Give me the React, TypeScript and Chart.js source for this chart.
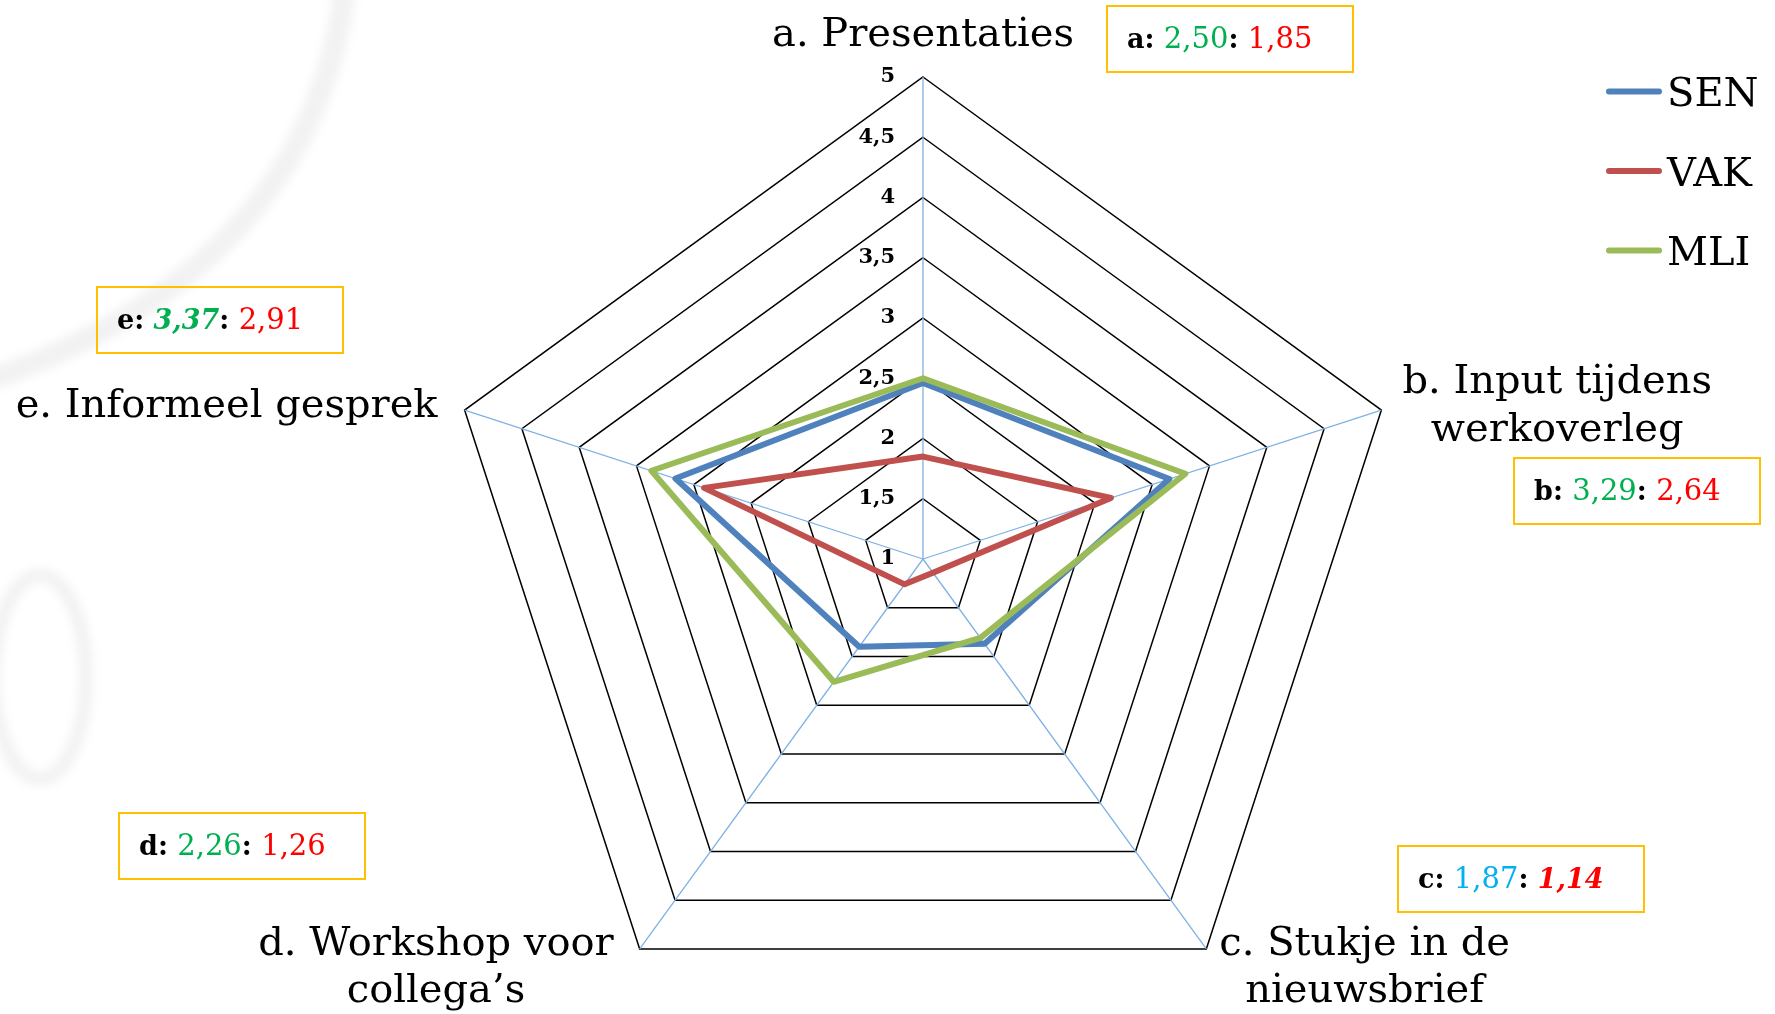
import React, { useEffect, useRef } from 'react';
import { Chart, registerables } from 'chart.js';

Chart.register(...registerables);

// ---------- data ----------
const CATEGORIES: string[][] = [
  ['a. Presentaties'],
  ['b. Input tijdens', 'werkoverleg'],
  ['c. Stukje in de', 'nieuwsbrief'],
  ['d. Workshop voor', 'collega\u2019s'],
  ['e. Informeel gesprek'],
];
const SERIES_NAMES = ['SEN', 'VAK', 'MLI'];
const SEN_VALUES = [2.46, 3.15, 1.87, 1.9, 3.16];
const VAK_VALUES = [1.85, 2.64, 1.14, 1.26, 2.91];
const MLI_VALUES = [2.5, 3.29, 1.81, 2.26, 3.37];
const TICK_LABELS = ['1', '1,5', '2', '2,5', '3', '3,5', '4', '4,5', '5'];
const BOX_KEYS = ['a', 'b', 'c', 'd', 'e'];
const BOX_FIRST = ['2,50', '3,29', '1,87', '2,26', '3,37'];
const BOX_SECOND = ['1,85', '2,64', '1,14', '1,26', '2,91'];

// ---------- styles / layout ----------
const SERIF = '"DejaVu Serif", "Liberation Serif", serif';
const SERIES_COLORS = ['#4F81BD', '#C0504D', '#9BBB59'];
const BOX_FIRST_COLOR = ['#00B050', '#00B050', '#00B0F0', '#00B050', '#00B050'];
const BOX_FIRST_ITALIC = [false, false, false, false, true];
const BOX_SECOND_ITALIC = [false, false, true, false, false];
const BOX_POS = [
  [1107, 6],
  [1514, 458],
  [1398, 846],
  [119, 813],
  [97, 287],
];
const BOX_W = 246;
const BOX_H = 66;
const LABEL_LAYOUT = [
  { side: 'center', gap: 0, dy: -31 },
  { side: 'right', gap: 21, dy: -17 },
  { side: 'right', gap: 13, dy: 6 },
  { side: 'left', gap: 26, dy: 6 },
  { side: 'left', gap: 27, dy: 7 },
];
const LABEL_LINE_H = 47.5;

const watermarkPlugin = {
  id: 'watermark',
  beforeDraw(chart: any) {
    const ctx: CanvasRenderingContext2D = chart.ctx;
    ctx.save();
    ctx.filter = 'blur(5px)';
    ctx.strokeStyle = 'rgba(0,0,0,0.05)';
    ctx.lineWidth = 22;
    ctx.lineCap = 'round';
    ctx.beginPath();
    ctx.moveTo(345, -10);
    ctx.quadraticCurveTo(310, 265, -5, 378);
    ctx.stroke();
    ctx.lineWidth = 14;
    ctx.beginPath();
    ctx.ellipse(40, 677, 46, 102, 0, 0, Math.PI * 2);
    ctx.stroke();
    ctx.restore();
  },
};

const overlayPlugin = {
  id: 'overlay',
  afterDatasetsDraw(chart: any) {
    const ctx: CanvasRenderingContext2D = chart.ctx;
    const scale = chart.scales.r;
    ctx.save();

    // tick labels
    ctx.font = `bold 21px ${SERIF}`;
    ctx.fillStyle = '#000';
    ctx.textAlign = 'right';
    ctx.textBaseline = 'middle';
    scale.ticks.forEach((t: any) => {
      const p = scale.getPointPositionForValue(0, t.value);
      ctx.fillText(String(t.label), p.x - 28, p.y);
    });

    // category labels
    ctx.font = `40px ${SERIF}`;
    ctx.textBaseline = 'alphabetic';
    ctx.textAlign = 'center';
    (chart.data.labels as string[][]).forEach((lab, i) => {
      const lines = Array.isArray(lab) ? lab : [lab];
      const v = scale.getPointPosition(i, scale.drawingArea);
      const maxW = Math.max(...lines.map((l) => ctx.measureText(l).width));
      const cfg = LABEL_LAYOUT[i];
      let cx = v.x;
      if (cfg.side === 'right') cx = v.x + cfg.gap + maxW / 2;
      if (cfg.side === 'left') cx = v.x - cfg.gap - maxW / 2;
      const first = cfg.side === 'center' ? v.y + cfg.dy - (lines.length - 1) * LABEL_LINE_H : v.y + cfg.dy;
      lines.forEach((l, k) => ctx.fillText(l, cx, first + k * LABEL_LINE_H));
    });

    // legend
    chart.data.datasets.forEach((ds: any, k: number) => {
      const y = 91.5 + k * 79.5;
      ctx.strokeStyle = ds.borderColor;
      ctx.lineWidth = 6;
      ctx.lineCap = 'round';
      ctx.beginPath();
      ctx.moveTo(1609, y);
      ctx.lineTo(1659, y);
      ctx.stroke();
      ctx.fillStyle = '#000';
      ctx.textAlign = 'left';
      ctx.font = `40px ${SERIF}`;
      ctx.fillText(ds.label, 1667, y + 14.5);
    });

    // annotation boxes
    BOX_KEYS.forEach((key, i) => {
      const [bx, by] = BOX_POS[i];
      ctx.strokeStyle = '#FFC000';
      ctx.lineWidth = 2;
      ctx.strokeRect(bx, by, BOX_W, BOX_H);
      const runs = [
        { t: key + ':', c: '#000', it: false, b: true },
        { t: ' ', c: '#000', it: false, b: true },
        { t: BOX_FIRST[i], c: BOX_FIRST_COLOR[i], it: BOX_FIRST_ITALIC[i], b: BOX_FIRST_ITALIC[i] },
        { t: ':', c: '#000', it: false, b: true },
        { t: ' ', c: '#000', it: false, b: true },
        { t: BOX_SECOND[i], c: '#FF0000', it: BOX_SECOND_ITALIC[i], b: BOX_SECOND_ITALIC[i] },
      ];
      let x = bx + 20;
      const y = by + 42;
      ctx.textAlign = 'left';
      runs.forEach((r) => {
        ctx.font = `${r.it ? 'italic ' : ''}${r.b ? 'bold ' : ''}${r.b ? 27 : 29}px ${SERIF}`;
        ctx.fillStyle = r.c;
        ctx.fillText(r.t, x, y);
        x += ctx.measureText(r.t).width;
      });
    });

    ctx.restore();
  },
};

export default function App() {
  const canvasRef = useRef<HTMLCanvasElement | null>(null);

  useEffect(() => {
    const canvas = canvasRef.current;
    if (!canvas) return;
    const seriesValues = [SEN_VALUES, VAK_VALUES, MLI_VALUES];
    const chart = new Chart(canvas, {
      type: 'radar',
      data: {
        labels: CATEGORIES,
        datasets: SERIES_NAMES.map((name, k) => ({
          label: name,
          data: seriesValues[k],
          borderColor: SERIES_COLORS[k],
          backgroundColor: 'rgba(0,0,0,0)',
          fill: false,
          borderWidth: 6,
          pointRadius: 0,
          pointHoverRadius: 0,
          order: 3 - k,
        })),
      },
      options: {
        responsive: false,
        animation: false,
        devicePixelRatio: 1,
        layout: { padding: { left: 441, right: 370, top: 77, bottom: 9 } },
        plugins: { legend: { display: false }, tooltip: { enabled: false } },
        elements: { line: { tension: 0, borderJoinStyle: 'round' } },
        scales: {
          r: {
            min: 1,
            max: 5,
            startAngle: 0,
            ticks: {
              stepSize: 0.5,
              display: false,
              callback: (_v: any, i: number) => TICK_LABELS[i],
            },
            grid: { color: '#000000', lineWidth: 1.5 },
            angleLines: { color: '#7FB1E3', lineWidth: 1.3 },
            pointLabels: { display: false },
          },
        },
      } as any,
      plugins: [watermarkPlugin, overlayPlugin],
    });
    return () => chart.destroy();
  }, []);

  return (
    <div
      style={{
        position: 'absolute',
        left: 0,
        top: 0,
        width: 1775,
        height: 1014,
        overflow: 'hidden',
        background: '#ffffff',
      }}
    >
      <canvas ref={canvasRef} width={1775} height={1050} style={{ display: 'block', width: 1775, height: 1050 }} />
    </div>
  );
}
